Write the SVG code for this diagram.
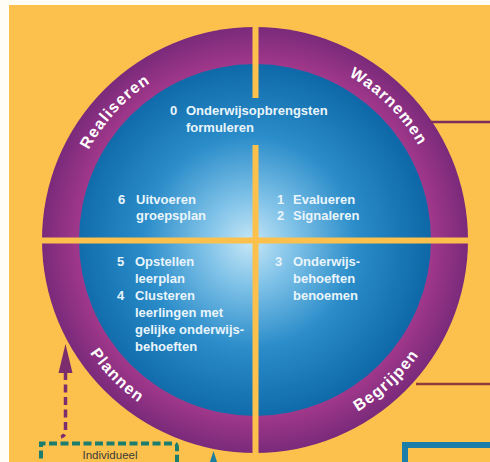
<svg xmlns="http://www.w3.org/2000/svg" width="490" height="462" viewBox="0 0 490 462">
  <defs>
    <radialGradient id="gBlue" gradientUnits="userSpaceOnUse" cx="250" cy="242" r="178">
      <stop offset="0" stop-color="#C4E6F6"/>
      <stop offset="0.25" stop-color="#7FC2E8"/>
      <stop offset="0.6" stop-color="#2A8CC9"/>
      <stop offset="1" stop-color="#0F69A8"/>
    </radialGradient>
    <radialGradient id="gRing" gradientUnits="userSpaceOnUse" cx="255" cy="240" r="213">
      <stop offset="0.82" stop-color="#A2388B"/>
      <stop offset="1" stop-color="#7A2A7B"/>
    </radialGradient>
    <path id="pReal" d="M66.18,231.76 A189,189 0 0 1 230.33,52.62"/>
    <path id="pWaar" d="M271.47,51.72 A189,189 0 0 1 443.28,223.53"/>
    <path id="pPlan" d="M55.62,255.69 A200,200 0 0 0 235.83,439.08"/>
    <path id="pBegr" d="M265.47,439.73 A200,200 0 0 0 453.51,264.37"/>
  </defs>
  <style>
    .step { font-family: "Liberation Sans", Arial, sans-serif; font-weight: bold; font-size: 13px; fill: #E9F5FB; }
    .ring { font-family: "Liberation Sans", Arial, sans-serif; font-weight: bold; font-size: 16px; fill: #FFFFFF; letter-spacing: 1.2px; }
    .div { fill: #FBC14C; }
  </style>

  <rect x="0" y="0" width="490" height="462" fill="#FFFDF6"/>
  <rect x="9" y="5" width="481" height="457" fill="#FBC14C"/>

  <g id="cycle">
    <circle cx="255" cy="240" r="213" fill="url(#gRing)"/>
    <circle cx="255" cy="240" r="176" fill="url(#gBlue)"/>
    <rect class="div" x="252.5" y="20" width="6" height="78"/>
    <rect class="div" x="252.5" y="145" width="6" height="315"/>
    <rect class="div" x="38" y="237.5" width="434" height="6"/>
  </g>

  <g id="phase-realiseren">
    <text class="ring"><textPath href="#pReal" startOffset="50%" text-anchor="middle">Realiseren</textPath></text>
  </g>
  <g id="phase-waarnemen">
    <text class="ring"><textPath href="#pWaar" startOffset="50%" text-anchor="middle">Waarnemen</textPath></text>
  </g>
  <g id="phase-plannen">
    <text class="ring"><textPath href="#pPlan" startOffset="50%" text-anchor="middle">Plannen</textPath></text>
  </g>
  <g id="phase-begrijpen">
    <text class="ring"><textPath href="#pBegr" startOffset="50%" text-anchor="middle">Begrijpen</textPath></text>
  </g>

  <g id="step-0">
    <text class="step" x="170" y="115">0</text>
    <text class="step" x="186" y="115">Onderwijsopbrengsten</text>
    <text class="step" x="186" y="132">formuleren</text>
  </g>
  <g id="step-6">
    <text class="step" x="118" y="204">6</text>
    <text class="step" x="136" y="204">Uitvoeren</text>
    <text class="step" x="136" y="220">groepsplan</text>
  </g>
  <g id="step-1-2">
    <text class="step" x="277" y="204">1</text>
    <text class="step" x="293" y="204">Evalueren</text>
    <text class="step" x="277" y="220">2</text>
    <text class="step" x="293" y="220">Signaleren</text>
  </g>
  <g id="step-5-4">
    <text class="step" x="117" y="266">5</text>
    <text class="step" x="135" y="266">Opstellen</text>
    <text class="step" x="135" y="283">leerplan</text>
    <text class="step" x="117" y="300">4</text>
    <text class="step" x="135" y="300">Clusteren</text>
    <text class="step" x="135" y="317">leerlingen met</text>
    <text class="step" x="135" y="334">gelijke onderwijs-</text>
    <text class="step" x="135" y="351">behoeften</text>
  </g>
  <g id="step-3">
    <text class="step" x="275" y="266">3</text>
    <text class="step" x="293" y="266">Onderwijs-</text>
    <text class="step" x="293" y="283">behoeften</text>
    <text class="step" x="293" y="300">benoemen</text>
  </g>

  <g id="box-individueel">
    <path d="M41,470 V443.5 H174 Q177,443.5 177,447 V470" fill="none" stroke="#1B7D6E" stroke-width="4" stroke-dasharray="8,3.5"/>
    <text x="110" y="458.5" text-anchor="middle" font-family="'Liberation Sans', Arial, sans-serif" font-size="11.5" fill="#3A3A3A">Individueel</text>
  </g>
  <g id="box-right">
    <rect x="405" y="445" width="100" height="40" fill="none" stroke="#1A7EA8" stroke-width="6"/>
  </g>

  <g id="connectors">
    <line x1="430" y1="122" x2="490" y2="122" stroke="#7E2F5E" stroke-width="2.5"/>
    <line x1="416" y1="384" x2="490" y2="384" stroke="#8E3B3B" stroke-width="2.5"/>
    <path d="M65.5,372 V430 Q65.5,436 61,437" fill="none" stroke="#7C2D6D" stroke-width="3.5" stroke-dasharray="8,4.5"/>
    <polygon points="65.5,344 58.5,373 72.5,373" fill="#7C2D6D"/>
    <polygon points="213.5,451 210,462 217,462" fill="#1A7EA0"/>
  </g>
</svg>
